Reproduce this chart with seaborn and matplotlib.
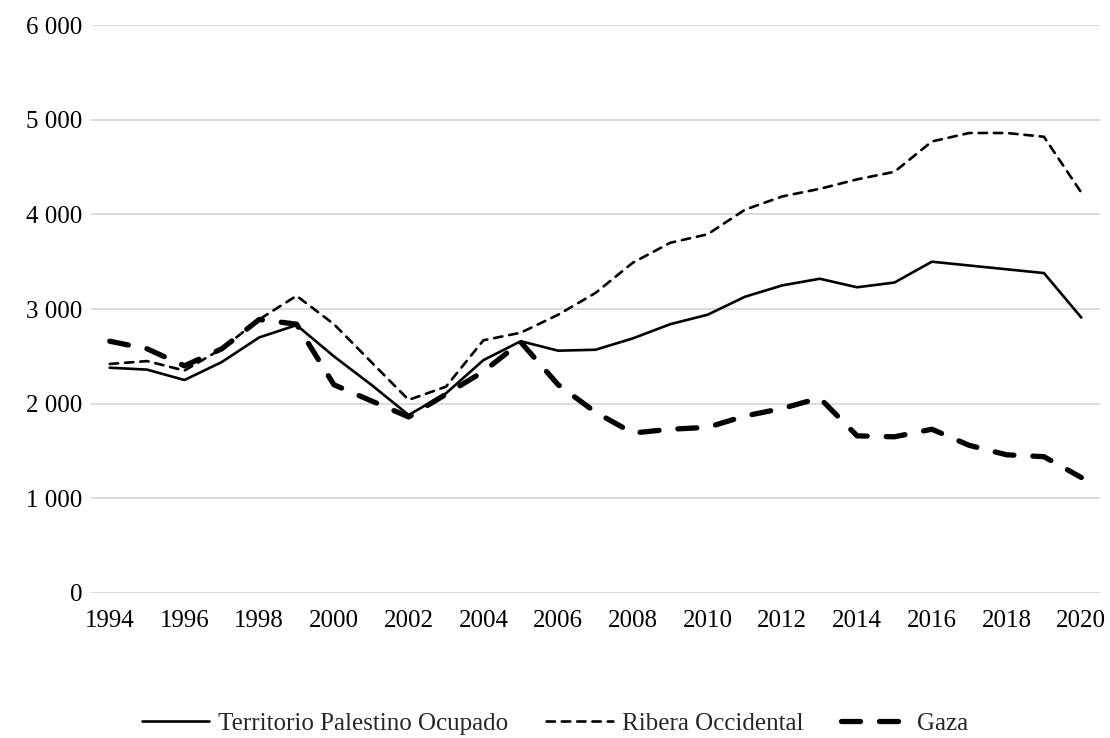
import numpy as np
import matplotlib
matplotlib.use("Agg")
import matplotlib.pyplot as plt
import matplotlib.ticker as mticker
import pandas as pd
import seaborn as sns

years = list(range(1994, 2021))
tpo = [2380, 2360, 2250, 2440, 2700, 2830, 2500, 2200, 1880, 2110, 2460, 2660, 2560,
       2570, 2690, 2840, 2940, 3130, 3250, 3320, 3230, 3280, 3500, 3460, 3420, 3380, 2910]
ribera = [2420, 2450, 2350, 2580, 2890, 3140, 2840, 2440, 2040, 2180, 2670, 2750, 2940,
          3170, 3490, 3700, 3790, 4050, 4190, 4270, 4370, 4450, 4770, 4860, 4860, 4820, 4230]
gaza = [2660, 2580, 2400, 2580, 2890, 2840, 2200, 2030, 1860, 2100, 2340, 2650, 2200,
        1910, 1690, 1730, 1750, 1870, 1950, 2060, 1660, 1650, 1730, 1560, 1460, 1440, 1220]
series = ["Territorio Palestino Ocupado", "Ribera Occidental", "Gaza"]

df = pd.DataFrame({"year": years * 3,
                   "value": tpo + ribera + gaza,
                   "serie": [series[0]] * 27 + [series[1]] * 27 + [series[2]] * 27})

sns.set_style("white")
plt.rcParams['font.family'] = ['Liberation Serif', 'DejaVu Serif']

fig = plt.figure(figsize=(11.1, 7.38), dpi=100)
ax = fig.add_axes([0.082, 0.1965, 0.909, 0.7695])

widths = {series[0]: 1.9, series[1]: 1.9, series[2]: 3.8}
dashes = {series[0]: "", series[1]: (3.2, 2.6), series[2]: (3.6, 3.6)}
sns.lineplot(data=df, x="year", y="value", hue="serie", style="serie",
             palette=["black"] * 3, dashes=dashes, size="serie", sizes=widths,
             ax=ax, legend=False)
for ln in ax.lines:
    ln.set_dash_capstyle("round")
    ln.set_solid_capstyle("round")
    ln.set_solid_joinstyle("round")

ax.set_xlim(1993.5, 2020.5)
ax.set_ylim(0, 6000)
ax.set_xticks(years[::2])
ax.set_yticks(np.arange(0, 6001, 1000))
ax.yaxis.set_major_formatter(mticker.FuncFormatter(lambda v, p: f"{int(v):,}".replace(",", " ")))
ax.grid(axis="y", color="#d9d9d9", linewidth=1.3)
ax.set_axisbelow(True)
for s in ax.spines.values():
    s.set_visible(False)
ax.tick_params(axis="both", labelsize=18, length=0, colors="black")
ax.tick_params(axis="x", pad=12)
ax.tick_params(axis="y", pad=6)
ax.set_xlabel("")
ax.set_ylabel("")

from matplotlib.lines import Line2D
handles = [Line2D([], [], color="black", lw=1.9),
           Line2D([], [], color="black", lw=1.9, dashes=(3.2, 2.6), dash_capstyle="round"),
           Line2D([], [], color="black", lw=3.8, dashes=(3.6, 3.6), dash_capstyle="round")]
fig.legend(handles, series, loc="center", bbox_to_anchor=(0.5, 0.019), ncol=3,
           frameon=False, fontsize=18, handlelength=2.7, handletextpad=0.35,
           columnspacing=1.5)

fig.savefig("out.png", dpi=100)
